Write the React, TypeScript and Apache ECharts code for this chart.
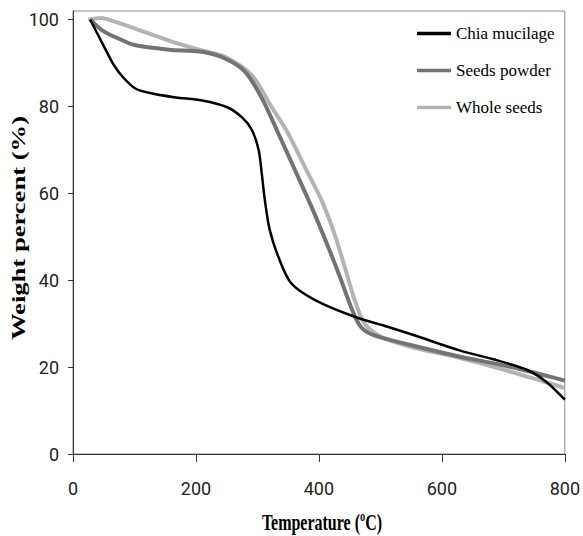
import React, { useEffect, useRef } from "react";
import * as echarts from "echarts";

const seriesNames = ["Chia mucilage", "Seeds powder", "Whole seeds"];

const chiaTemp = [28, 48, 65, 81, 102, 129, 167, 210, 250, 275, 291, 302, 307, 312, 320, 334, 355, 393, 458, 512, 560, 630, 684, 738, 770, 800];
const chiaWeight = [100, 94.5, 89.9, 86.8, 84.1, 83, 82.1, 81.4, 79.9, 77.5, 74.6, 70, 64.6, 58.5, 51.6, 45.4, 39.3, 35.5, 31.6, 29.3, 27.1, 23.8, 21.8, 19.4, 16.6, 12.5];

const powderTemp = [28, 48, 75, 102, 156, 210, 248, 280, 307, 334, 361, 388, 415, 436, 452, 468, 490, 549, 630, 711, 765, 800];
const powderWeight = [100, 97.5, 95.6, 94.1, 93.1, 92.6, 91, 88, 82, 73.8, 65.4, 56.9, 47.7, 40.1, 33.9, 29.3, 27.3, 25.1, 22.4, 20.1, 18.2, 16.9];

const wholeTemp = [25, 45, 75, 102, 156, 210, 248, 291, 323, 350, 377, 404, 425, 442, 458, 474, 501, 549, 630, 711, 765, 800];
const wholeWeight = [100, 100.4, 99.2, 97.9, 95.2, 92.9, 91.4, 87.2, 79.9, 73.8, 66.1, 58.5, 50.8, 43.1, 35.5, 30.1, 27, 24.7, 22.1, 19, 16.7, 15.2];

const xTicks = [0, 200, 400, 600, 800];
const yTicks = [0, 20, 40, 60, 80, 100];

const xTitle = "Temperature (ºC)";
const yTitle = "Weight percent (%)";

const zip = (a: number[], b: number[]) => a.map((v, i) => [v, b[i]]);

export default function App() {
  const ref = useRef<HTMLDivElement>(null);
  useEffect(() => {
    document.body.style.margin = "0";
    if (!ref.current) return;
    const chart = echarts.init(ref.current, null, { renderer: "svg" });
    const tickFont = "Roboto, 'Liberation Sans', sans-serif";
    const serif = "'Liberation Serif', 'Times New Roman', serif";
    chart.setOption({
      animation: false,
      backgroundColor: "#ffffff",
      grid: {
        left: 73,
        right: 14,
        top: 11,
        bottom: 82,
        show: true,
        borderColor: "#8a8a8a",
        borderWidth: 1,
        backgroundColor: "transparent",
      },
      legend: {
        orient: "vertical",
        left: 417,
        top: 25,
        padding: 0,
        icon: "rect",
        itemWidth: 34,
        itemHeight: 3.5,
        itemGap: 20,
        data: seriesNames,
        textStyle: { fontFamily: serif, fontSize: 17, color: "#000", lineHeight: 17 },
      },
      xAxis: {
        type: "value",
        min: 0,
        max: 800,
        interval: 200,
        splitLine: { show: false },
        axisLine: { lineStyle: { color: "#333", width: 1 } },
        axisTick: { show: true, length: 8, lineStyle: { color: "#333" }, customValues: xTicks },
        axisLabel: { fontFamily: tickFont, fontSize: 18, color: "#222", margin: 25, customValues: xTicks },
      },
      yAxis: {
        type: "value",
        min: 0,
        max: 102,
        interval: 20,
        splitLine: { show: false },
        axisLine: { show: true, lineStyle: { color: "#333", width: 1 } },
        axisTick: { show: true, length: 5, lineStyle: { color: "#333" }, customValues: yTicks },
        axisLabel: {
          fontFamily: tickFont,
          fontSize: 18,
          color: "#222",
          margin: 14,
          customValues: yTicks,
          formatter: (v: number) => (yTicks.includes(v) ? String(v) : ""),
        },
      },
      series: [
        {
          name: seriesNames[0],
          type: "line",
          smooth: 0.3,
          symbol: "none",
          data: zip(chiaTemp, chiaWeight),
          lineStyle: { color: "#000000", width: 2.5 },
          itemStyle: { color: "#000000" },
          z: 3,
        },
        {
          name: seriesNames[1],
          type: "line",
          smooth: 0.3,
          symbol: "none",
          data: zip(powderTemp, powderWeight),
          lineStyle: { color: "#737373", width: 4 },
          itemStyle: { color: "#737373" },
          z: 2,
        },
        {
          name: seriesNames[2],
          type: "line",
          smooth: 0.3,
          symbol: "none",
          data: zip(wholeTemp, wholeWeight),
          lineStyle: { color: "#b3b3b3", width: 4 },
          itemStyle: { color: "#b3b3b3" },
          z: 1,
        },
      ],
      graphic: [
        {
          type: "text",
          x: 322,
          y: 522,
          scaleY: 1.5,
          style: {
            text: xTitle,
            fontFamily: serif,
            fontWeight: "bold",
            fontSize: 16,
            fill: "#000",
            textAlign: "center",
            textVerticalAlign: "middle",
          },
        },
        {
          type: "text",
          x: 18,
          y: 228,
          rotation: Math.PI / 2,
          scaleX: 1.4,
          style: {
            text: yTitle,
            fontFamily: serif,
            fontWeight: "bold",
            fontSize: 19,
            fill: "#000",
            textAlign: "center",
            textVerticalAlign: "middle",
          },
        },
      ],
    });
    return () => chart.dispose();
  }, []);
  return <div ref={ref} style={{ width: 583, height: 536 }} />;
}
